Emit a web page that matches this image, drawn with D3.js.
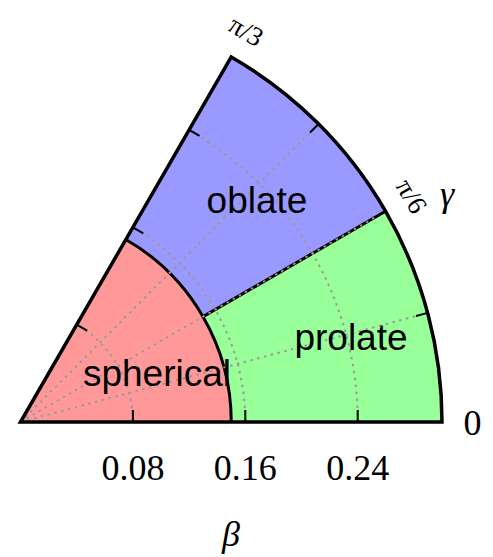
<!DOCTYPE html>
<html>
<head>
<meta charset="utf-8">
<script src="https://cdn.jsdelivr.net/npm/d3@7"></script>
<style>
  body { margin: 0; background: #fff; }
  svg { display: block; }
</style>
</head>
<body>
<div id="chart"></div>
<script>
// shape regions in the (beta, gamma) plane
const regionNames = ["spherical", "oblate", "prolate"];
const regionBetaMin = [0, 0.15, 0.15];
const regionBetaMax = [0.15, 0.30, 0.30];
const regionGammaMin = [0, Math.PI / 6, 0];
const regionGammaMax = [Math.PI / 3, Math.PI / 3, Math.PI / 6];
const regionColors = ["#ff9999", "#9999ff", "#99ff99"];

const betaMax = 0.30;
const betaTicks = [0.08, 0.16, 0.24];
const betaTickLabels = ["0.08", "0.16", "0.24"];
const gammaTicks = [0, Math.PI / 12, Math.PI / 6, Math.PI / 4, Math.PI / 3];
const gammaTickLabels = ["0", "", "π/6", "", "π/3"];

const svgWidth = 493, svgHeight = 557;
const cx = 20.5, cy = 422;

const svg = d3.select("#chart").append("svg")
    .attr("width", svgWidth)
    .attr("height", svgHeight);

const g = svg.append("g")
    .attr("transform", "translate(" + cx + "," + cy + ")");

const r = d3.scaleLinear().domain([0, betaMax]).range([0, 421.5]);

// d3.arc measures angles clockwise from 12 o'clock, gamma goes ccw from 3 o'clock
const arc = d3.arc();
const px = (b, gam) => r(b) * Math.cos(gam);
const py = (b, gam) => -r(b) * Math.sin(gam);

// filled regions
g.selectAll("path.region")
  .data(regionNames)
  .enter().append("path")
    .attr("class", "region")
    .attr("fill", (d, i) => regionColors[i])
    .attr("d", (d, i) => arc({
      innerRadius: r(regionBetaMin[i]),
      outerRadius: r(regionBetaMax[i]),
      startAngle: Math.PI / 2 - regionGammaMax[i],
      endAngle: Math.PI / 2 - regionGammaMin[i]
    }));

// region boundaries
const sph = d3.path();
sph.moveTo(r(regionBetaMax[0]), 0);
sph.arc(0, 0, r(regionBetaMax[0]), 0, -regionGammaMax[0], true);
g.append("path")
    .attr("d", sph.toString())
    .attr("fill", "none")
    .attr("stroke", "#000")
    .attr("stroke-width", 3);

g.append("line")
    .attr("x1", px(regionBetaMin[2], regionGammaMax[2]))
    .attr("y1", py(regionBetaMin[2], regionGammaMax[2]))
    .attr("x2", px(regionBetaMax[2], regionGammaMax[2]))
    .attr("y2", py(regionBetaMax[2], regionGammaMax[2]))
    .attr("stroke", "#000")
    .attr("stroke-width", 3);

// dotted grid
const gridColor = "#999999";
betaTicks.forEach(b => {
  const p = d3.path();
  p.moveTo(r(b), 0);
  p.arc(0, 0, r(b), 0, -Math.PI / 3, true);
  g.append("path")
      .attr("d", p.toString())
      .attr("fill", "none")
      .attr("stroke", gridColor)
      .attr("stroke-width", 2)
      .attr("stroke-dasharray", "2.5,4.5");
});
gammaTicks.slice(1, -1).forEach(t => {
  g.append("line")
      .attr("x1", 0).attr("y1", 0)
      .attr("x2", px(betaMax, t))
      .attr("y2", py(betaMax, t))
      .attr("stroke", gridColor)
      .attr("stroke-width", 2)
      .attr("stroke-dasharray", "2.5,4.5");
});

// outer frame of the wedge
g.append("path")
    .attr("d", arc({
      innerRadius: 0,
      outerRadius: r(betaMax),
      startAngle: Math.PI / 2 - Math.PI / 3,
      endAngle: Math.PI / 2
    }))
    .attr("fill", "none")
    .attr("stroke", "#000")
    .attr("stroke-width", 3.5)
    .attr("stroke-linejoin", "miter");

// ticks
const tickLen = 12;
const nx = Math.sin(Math.PI / 3), ny = Math.cos(Math.PI / 3);
betaTicks.forEach(b => {
  g.append("line")
      .attr("x1", r(b)).attr("y1", 0)
      .attr("x2", r(b)).attr("y2", -tickLen)
      .attr("stroke", "#000").attr("stroke-width", 2);
  const x0 = px(b, Math.PI / 3), y0 = py(b, Math.PI / 3);
  g.append("line")
      .attr("x1", x0).attr("y1", y0)
      .attr("x2", x0 + tickLen * nx).attr("y2", y0 + tickLen * ny)
      .attr("stroke", "#000").attr("stroke-width", 2);
});
gammaTicks.slice(1, -1).forEach(t => {
  g.append("line")
      .attr("x1", px(betaMax, t)).attr("y1", py(betaMax, t))
      .attr("x2", (r(betaMax) - tickLen) * Math.cos(t))
      .attr("y2", -(r(betaMax) - tickLen) * Math.sin(t))
      .attr("stroke", "#000").attr("stroke-width", 2);
});

// beta tick labels
g.selectAll("text.btick")
  .data(betaTicks)
  .enter().append("text")
    .attr("class", "btick")
    .attr("x", d => r(d))
    .attr("y", 58)
    .attr("text-anchor", "middle")
    .style("font-family", "'Liberation Serif', serif")
    .style("font-size", "36px")
    .text((d, i) => betaTickLabels[i]);

// gamma tick labels
const labelR = 452;
gammaTicks.forEach((t, i) => {
  if (!gammaTickLabels[i]) return;
  const x = labelR * Math.cos(t), y = -labelR * Math.sin(t);
  const rot = t === 0 ? 0 : 90 - t * 180 / Math.PI;
  g.append("text")
      .attr("transform", "translate(" + x + "," + y + ") rotate(" + rot + ")")
      .attr("text-anchor", "middle")
      .attr("dy", "0.35em")
      .style("font-family", "'Liberation Serif', serif")
      .style("font-size", t === 0 ? "36px" : "27px")
      .text(gammaTickLabels[i]);
});

// axis names
svg.append("text")
    .attr("x", 231).attr("y", 546)
    .attr("text-anchor", "middle")
    .style("font-family", "'Liberation Serif', serif")
    .style("font-style", "italic")
    .style("font-size", "36px")
    .text("β");
svg.append("text")
    .attr("x", 447).attr("y", 206)
    .attr("text-anchor", "middle")
    .style("font-family", "'Liberation Serif', serif")
    .style("font-style", "italic")
    .style("font-size", "36px")
    .text("γ");

// region names
const nameX = [157, 257, 351];
const nameY = [386, 213, 350];
svg.selectAll("text.region")
  .data(regionNames)
  .enter().append("text")
    .attr("class", "region")
    .attr("x", (d, i) => nameX[i])
    .attr("y", (d, i) => nameY[i])
    .attr("text-anchor", "middle")
    .style("font-family", "'Liberation Sans', Arial, sans-serif")
    .style("font-size", "37px")
    .text(d => d);
</script>
</body>
</html>
